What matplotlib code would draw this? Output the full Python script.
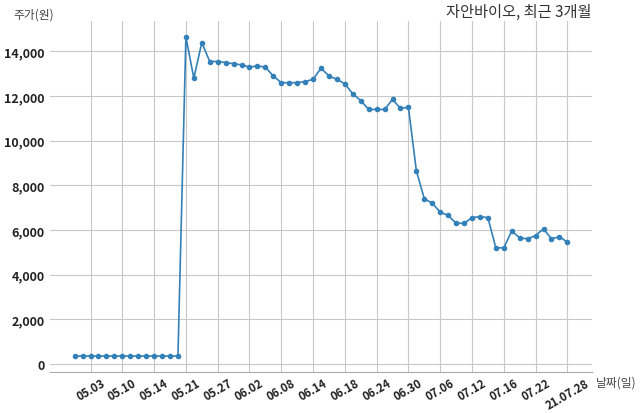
import matplotlib
matplotlib.use("Agg")
import matplotlib.pyplot as plt
import numpy as np

plt.rcParams['font.family'] = ['Noto Sans CJK KR', 'DejaVu Sans']

# closing price per trading day (won), 04.29 .. 07.28
flat_price = [350] * 14
after_price = [14650, 12800, 14400, 13550, 13550, 13500, 13450, 13400, 13300, 13350,
               13300, 12900, 12600, 12600, 12600, 12650, 12750, 13250, 12900, 12750,
               12550, 12100, 11800, 11400, 11400, 11400, 11850, 11450, 11500, 8650,
               7400, 7200, 6800, 6650, 6300, 6300, 6550, 6600, 6550, 5200,
               5200, 5950, 5650, 5600, 5750, 6050, 5600, 5700, 5450]
price = flat_price + after_price

tick_pos = list(range(2, 63, 4))
tick_labels = ['05.03', '05.10', '05.14', '05.21', '05.27', '06.02', '06.08', '06.14',
               '06.18', '06.24', '06.30', '07.06', '07.12', '07.16', '07.22', '21.07.28']
y_ticks = [0, 2000, 4000, 6000, 8000, 10000, 12000, 14000]

fig = plt.figure(figsize=(6.4, 4.14), dpi=100)
ax = fig.add_axes([50 / 640, 1 - 373 / 414, 542 / 640, 351 / 414])

x = np.arange(len(price))
ax.plot(x, price, color='#3480b8', lw=1.2, marker='o', ms=3)

ax.set_xticks(tick_pos)
ax.set_xticklabels(tick_labels, rotation=30, fontsize=8.2, fontweight='bold', color='#222')
ax.set_yticks(y_ticks)
ax.set_yticklabels([f"{v:,}" for v in y_ticks], fontsize=9, fontweight='bold', color='#222')
ax.tick_params(length=0, pad=4)
ax.tick_params(axis='x', pad=3)
ax.grid(color='#c8c8c8', lw=0.8)
ax.set_axisbelow(True)
for s in ('left', 'top', 'right'):
    ax.spines[s].set_visible(False)
ax.spines['bottom'].set_color('#aaaaaa')

fig.text(591 / 640, 1 - 12 / 414, '자안바이오, 최근 3개월', ha='right', va='center',
         fontsize=11, color='#333')
fig.text(13 / 640, 1 - 15 / 414, '주가(원)', ha='left', va='center', fontsize=8.5, color='#444')
fig.text(596 / 640, 1 - 383 / 414, '날짜(일)', ha='left', va='center', fontsize=8.5, color='#444')

fig.savefig('out.png', dpi=100)
